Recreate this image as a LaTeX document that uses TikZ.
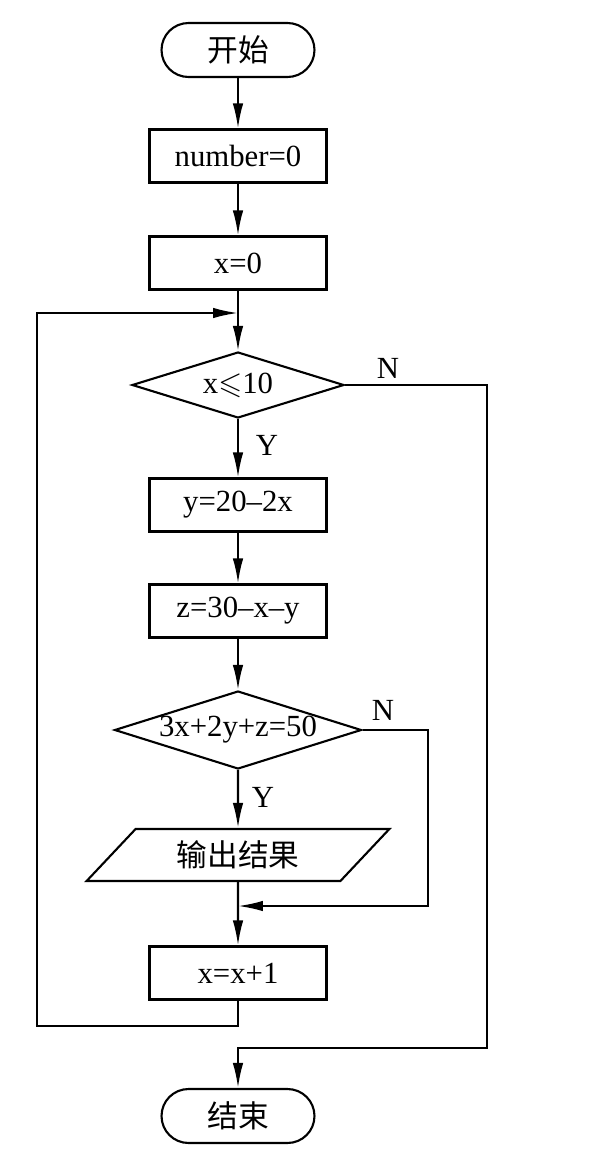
\documentclass[tikz,border=0pt]{standalone}
\usepackage{fontspec}
\setmainfont{Liberation Serif}
\newfontfamily\cjk{Noto Sans CJK SC}
\usepackage{amssymb}
\usetikzlibrary{shapes.geometric,arrows.meta}
\tikzset{>={Latex[length=5mm,width=2.1mm]}}
\tikzset{
  proc/.style={rectangle,draw=black,line width=1.2pt,minimum width=3.54cm,minimum height=1.06cm,inner sep=0pt},
  term/.style={rectangle,rounded corners=0.54cm,draw=black,line width=1.2pt,minimum width=3.06cm,minimum height=1.08cm,inner sep=0pt},
  decide/.style={diamond,draw=black,line width=1.2pt,inner sep=0pt,shape aspect=3.2},
  io/.style={trapezium,trapezium left angle=44,trapezium right angle=136,trapezium stretches=true,draw=black,line width=1.2pt,minimum width=6.06cm,minimum height=1.04cm,inner sep=0pt},
  flow/.style={draw=black,line width=1.2pt}
}

\begin{document}
\begin{tikzpicture}[x=0.02cm,y=-0.02cm,font=\fontsize{17.5pt}{20pt}\selectfont]
\useasboundingbox (0,0) rectangle (606,1153);
\node[term] (start) at (238,50) {\cjk 开始};
\node[proc] (num) at (238,156) {number=0};
\node[proc] (xzero) at (238,263) {x=0};
\node[decide,minimum width=4.24cm,minimum height=1.32cm] (cond1) at (238,385) {x$\leqslant$10};
\node[proc] (ycalc) at (238,505) {y=20–2x};
\node[proc] (zcalc) at (238,611) {z=30–x–y};
\node[decide,minimum width=4.94cm,minimum height=1.56cm] (cond2) at (238,730) {3x+2y+z=50};
\node[io] (out) at (238,855) {\cjk 输出结果};
\node[proc] (inc) at (238,973) {x=x+1};
\node[term] (stop) at (238,1116) {\cjk 结束};
\coordinate (loopin) at (238,313);
\coordinate (merge) at (238,906);
% main line
\path[flow,->] (start) edge (num);
\path[flow,->] (num) edge (xzero);
\path[flow,->] (xzero) edge (cond1);
\path[flow,->] (cond1) edge (ycalc);
\path[flow,->] (ycalc) edge (zcalc);
\path[flow,->] (zcalc) edge (cond2);
\path[flow,->] (cond2) edge (out);
\path[flow,->] (out) edge (inc);
\node (y1) at (267,445) {Y};
\node (y2) at (263,797) {Y};
% branches
\node (n1) at (388,368) {N};
\node (n2) at (383,710) {N};
\draw[flow,->] (cond2.east) -- (428,730) -- (428,906) -- (merge);
\draw[flow,->] (inc.south) -- (238,1026) -- (37,1026) -- (37,313) -- (loopin);
\draw[flow,->] (cond1.east) -- (487,385) -- (487,1048) -- (238,1048) -- (stop.north);
\end{tikzpicture}
\end{document}
